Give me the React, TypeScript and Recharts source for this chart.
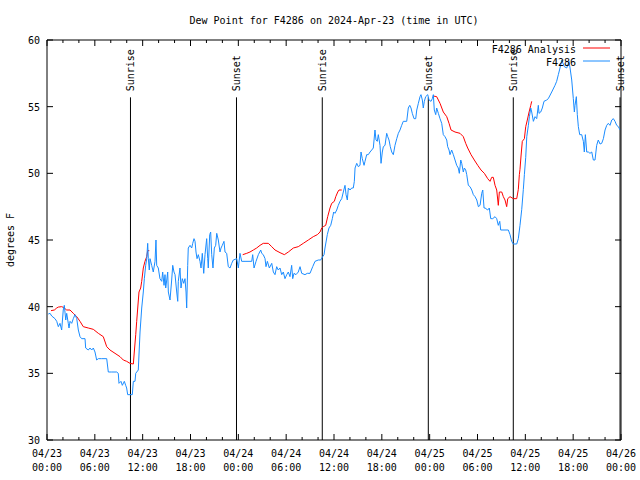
import { LineChart, Line, XAxis, YAxis, ReferenceLine } from "recharts";

// observed dew point (F4286), hours since 04/23 00:00 UTC
const obsHours = [
  0.16, 0.38, 0.59, 1.0, 1.22, 1.42, 1.63, 1.84, 2.04, 2.17, 2.35, 2.47, 2.67, 2.76, 2.89, 3.1, 3.3, 3.51, 3.73, 3.93,
  4.14, 4.35, 4.77, 4.85, 5.18, 5.39, 5.61, 5.81, 6.02, 6.23, 6.44, 6.86, 7.49, 7.69, 8.12, 8.74, 8.94, 9.03, 9.28, 9.45,
  9.7, 9.87, 9.99, 10.12, 10.41, 10.7, 10.83, 11.04, 11.13, 11.45, 11.67, 11.88, 12.08, 12.21, 12.38, 12.51, 12.63, 12.71, 12.83, 12.92,
  13.13, 13.33, 13.55, 13.67, 13.76, 13.96, 14.17, 14.39, 14.51, 14.68, 14.8, 14.89, 15.02, 15.14, 15.22, 15.43, 15.64, 15.77, 15.93, 16.06,
  16.27, 16.4, 16.47, 16.68, 16.81, 16.97, 17.15, 17.31, 17.44, 17.52, 17.65, 17.72, 17.94, 18.15, 18.28, 18.44, 18.57, 18.69, 18.82, 18.98,
  19.19, 19.32, 19.48, 19.66, 19.82, 20.03, 20.16, 20.23, 20.41, 20.53, 20.66, 20.82, 20.99, 21.16, 21.29, 21.49, 21.7, 21.83, 21.99, 22.2,
  22.33, 22.54, 22.74, 22.96, 23.17, 23.37, 23.8, 24.0, 24.21, 24.42, 24.84, 25.68, 25.8, 25.97, 26.22, 26.51, 26.81, 26.93, 27.13, 27.35,
  27.47, 27.64, 27.89, 28.19, 28.39, 28.6, 28.81, 29.01, 29.23, 29.44, 29.64, 29.85, 30.07, 30.27, 30.48, 30.69, 30.82, 30.98, 31.23, 31.52,
  31.74, 31.95, 32.36, 32.65, 32.99, 33.33, 33.62, 34.03, 34.33, 34.58, 34.75, 34.87, 35.16, 35.37, 35.59, 35.79, 35.96, 36.12, 36.34, 36.54,
  36.75, 36.97, 37.17, 37.38, 37.51, 37.67, 37.8, 38.01, 38.22, 38.42, 38.55, 38.64, 38.85, 39.05, 39.26, 39.39, 39.55, 39.77, 39.89, 40.1,
  40.3, 40.52, 40.73, 40.93, 41.14, 41.27, 41.43, 41.56, 41.77, 41.9, 42.06, 42.19, 42.4, 42.61, 42.74, 42.9, 43.06, 43.24, 43.44, 43.65,
  43.87, 44.07, 44.28, 44.49, 44.69, 45.12, 45.32, 45.5, 45.66, 45.82, 46.04, 46.25, 46.38, 46.58, 46.79, 46.91, 47.08, 47.2, 47.33, 47.5,
  47.76, 47.92, 48.17, 48.33, 48.46, 48.58, 48.76, 48.88, 49.09, 49.3, 49.51, 49.71, 49.92, 50.14, 50.26, 50.43, 50.55, 50.76, 50.97, 51.18,
  51.39, 51.59, 51.72, 51.9, 52.02, 52.22, 52.35, 52.52, 52.65, 52.85, 53.06, 53.28, 53.48, 53.69, 53.91, 54.11, 54.32, 54.53, 54.66, 54.82,
  54.95, 55.28, 55.48, 55.66, 55.91, 56.2, 56.41, 56.61, 56.79, 56.91, 57.87, 58.08, 58.29, 58.49, 58.92, 59.12, 59.33, 59.55, 59.75, 59.88,
  60.05, 60.18, 60.38, 60.51, 60.68, 60.8, 61.01, 61.22, 61.43, 61.63, 61.72, 61.93, 62.13, 62.34, 62.68, 62.88, 63.31, 63.72, 63.93, 64.14,
  64.35, 64.56, 64.89, 65.19, 65.48, 65.61, 65.82, 66.02, 66.15, 66.23, 66.4, 66.52, 66.65, 66.82, 67.07, 67.28, 67.4, 67.53, 67.7, 67.9,
  68.11, 68.33, 68.53, 68.74, 68.95, 69.15, 69.37, 69.58, 69.79, 70.0, 70.21, 70.41, 70.62, 70.84, 71.04, 71.25, 71.46, 71.67, 71.88,
];
const obsValues = [
  39.45, 39.5, 39.3, 39.1, 38.9, 38.5, 38.75, 38.25, 39.75, 40.1, 39.0, 39.5, 38.75, 38.4, 38.9, 38.75, 39.1, 39.4, 39.1, 38.25,
  37.75, 37.6, 37.6, 36.9, 36.75, 36.9, 36.75, 36.9, 36.6, 36.0, 36.1, 36.1, 36.1, 35.1, 35.1, 35.1, 35.0, 34.25, 34.4, 34.1,
  34.4, 34.1, 33.9, 33.4, 33.4, 33.4, 34.4, 34.4, 35.0, 35.25, 38.1, 39.9, 41.1, 42.1, 43.1, 43.6, 44.75, 43.6, 42.75, 43.6,
  43.1, 42.6, 43.4, 45.0, 43.1, 42.9, 42.1, 41.9, 42.6, 41.6, 42.4, 41.4, 42.0, 42.6, 41.1, 40.5, 42.0, 43.1, 42.6, 42.4,
  41.1, 40.4, 41.9, 42.9, 41.4, 42.1, 41.75, 42.1, 41.1, 39.9, 43.1, 44.4, 44.6, 44.4, 44.75, 45.1, 44.9, 44.1, 43.6, 43.9,
  43.4, 42.9, 44.0, 42.5, 43.9, 45.1, 43.6, 42.9, 45.4, 45.6, 43.9, 42.9, 44.4, 44.6, 45.5, 45.0, 44.1, 44.4, 44.6, 44.9,
  44.1, 44.0, 43.0, 42.9, 43.25, 43.5, 43.6, 42.9, 44.0, 43.4, 43.4, 43.4, 43.9, 42.9, 43.4, 43.9, 44.25, 44.0, 43.9, 43.6,
  43.0, 43.4, 42.9, 43.25, 42.6, 42.4, 43.0, 42.75, 42.9, 42.4, 42.6, 42.1, 42.4, 42.6, 42.25, 43.1, 42.1, 42.5, 42.4, 42.6,
  43.0, 42.5, 42.4, 42.5, 42.5, 43.0, 43.4, 43.5, 43.5, 43.75, 43.9, 44.4, 45.4, 45.9, 46.1, 46.6, 47.1, 47.0, 47.25, 47.6,
  47.9, 48.1, 48.6, 49.1, 48.4, 48.0, 48.9, 48.75, 48.9, 48.9, 49.4, 50.4, 50.75, 50.5, 50.6, 51.6, 51.1, 50.6, 50.9, 51.4,
  51.4, 51.6, 51.75, 51.9, 53.25, 52.5, 52.4, 52.9, 52.1, 50.75, 51.6, 52.0, 52.1, 53.0, 52.75, 52.5, 52.0, 51.6, 51.4, 52.1,
  52.6, 53.0, 53.25, 53.6, 53.9, 53.9, 54.9, 55.1, 54.9, 54.5, 54.1, 54.1, 54.75, 55.25, 55.75, 55.9, 55.5, 54.9, 55.4, 55.75,
  55.9, 55.5, 55.4, 55.6, 55.9, 54.75, 54.4, 54.9, 54.5, 54.1, 53.75, 52.9, 52.75, 52.5, 52.0, 51.75, 51.4, 51.75, 51.4, 51.0,
  50.6, 50.4, 50.0, 51.0, 50.75, 50.1, 50.4, 50.25, 49.9, 49.1, 49.0, 48.75, 48.4, 48.25, 48.0, 47.5, 47.6, 48.5, 48.75, 47.4,
  47.4, 47.25, 47.4, 46.6, 46.6, 46.75, 46.6, 46.1, 46.4, 45.75, 45.75, 45.4, 44.9, 44.7, 44.7, 45.1, 46.1, 47.3, 48.8, 49.9,
  51.2, 52.75, 53.6, 54.25, 54.9, 54.6, 53.9, 54.25, 54.1, 55.1, 54.5, 54.6, 54.9, 55.4, 55.5, 55.6, 56.1, 56.6, 56.9, 57.4,
  57.9, 58.5, 58.0, 57.9, 58.4, 57.9, 57.0, 55.6, 54.6, 55.1, 55.75, 54.4, 53.5, 52.9, 52.9, 52.4, 51.6, 52.9, 51.6, 51.6,
  51.5, 51.6, 51.0, 51.0, 52.1, 52.5, 52.2, 52.25, 52.6, 53.25, 53.6, 53.75, 53.6, 54.0, 54.1, 53.9, 53.6, 53.5, 53.25,
];

// analysis dew point; null marks a break in the line
const anaHours = [
  0.5, 0.92, 1.22, 1.42, 1.84, 2.04, 2.26, 2.47, 2.89, 3.3, 3.73, 4.14, 4.55, 5.18, 5.81, 6.44, 7.06, 7.49, 7.9, 8.53,
  9.16, 9.57, 9.99, 10.41, 10.83, 10.95, 11.13, 11.25, 11.38, 11.54, 11.75, 11.88, 12.08, 12.29, 12.51, 12.63, 12.83,
  18.0,
  24.55, 25.05, 25.46, 25.88, 26.3, 26.72, 27.13, 27.76, 28.19, 28.6, 29.23, 29.77, 30.27, 30.9, 31.52, 32.15, 32.78, 33.4,
  33.91, 34.25, 34.46, 34.66, 34.96, 35.21, 35.5, 35.71, 36.04, 36.22, 36.47, 36.63, 36.97,
  42.0,
  48.46, 48.88, 49.3, 49.71, 50.14, 50.43, 50.68, 51.18, 51.81, 52.22, 52.52, 52.77, 53.19, 53.6, 54.03, 54.44, 54.86, 55.28,
  55.57, 55.78, 55.98, 56.2, 56.41, 56.61, 56.74, 57.04, 57.24, 57.45, 57.66, 57.79, 58.08, 58.49, 58.92, 59.12, 59.25, 59.33,
  59.46, 59.62, 59.88, 60.05, 60.25, 60.47, 60.68, 60.8,
];
const anaValues = [
  39.7, 39.75, 39.9, 39.97, 40.0, 39.95, 39.85, 39.75, 39.75, 39.5, 39.25, 38.9, 38.5, 38.4, 38.3, 38.0, 37.75, 37.0, 36.75, 36.5,
  36.25, 36.0, 35.9, 35.75, 35.7, 36.6, 37.9, 38.9, 39.9, 41.1, 41.4, 41.9, 42.9, 43.4, 43.75, 44.2, 44.2,
  null,
  43.9, 44.0, 44.1, 44.25, 44.4, 44.6, 44.75, 44.75, 44.5, 44.25, 44.05, 43.9, 44.1, 44.4, 44.5, 44.75, 45.0, 45.25,
  45.4, 45.6, 45.9, 46.0, 46.1, 46.75, 47.4, 47.75, 47.9, 48.25, 48.6, 48.75, 48.75,
  null,
  55.8, 55.75, 55.25, 54.6, 54.25, 53.75, 53.25, 53.1, 53.0, 52.75, 52.25, 51.9, 51.4, 51.0, 50.6, 50.25, 50.0, 49.6,
  49.4, 49.7, 49.7, 49.1, 48.75, 47.6, 48.6, 48.6, 48.25, 48.0, 47.5, 48.1, 48.25, 48.1, 48.1, 48.8, 49.9, 50.3,
  51.3, 52.4, 52.6, 53.5, 54.0, 54.6, 55.1, 55.4,
];

const sunHours = [10.47, 23.77, 34.53, 47.83, 58.49, 71.88];
const sunNames = ["Sunrise", "Sunset", "Sunrise", "Sunset", "Sunrise", "Sunset"];
const sunLineTop = 55.7;

const xMajorHours = [0, 6, 12, 18, 24, 30, 36, 42, 48, 54, 60, 66, 72];
const xMinorHours = [
  0, 2, 4, 6, 8, 10, 12, 14, 16, 18, 20, 22, 24, 26, 28, 30, 32, 34, 36,
  38, 40, 42, 44, 46, 48, 50, 52, 54, 56, 58, 60, 62, 64, 66, 68, 70, 72,
];
const xDates = ["04/23", "04/23", "04/23", "04/23", "04/24", "04/24", "04/24", "04/24", "04/25", "04/25", "04/25", "04/25", "04/26"];
const xTimes = ["00:00", "06:00", "12:00", "18:00", "00:00", "06:00", "12:00", "18:00", "00:00", "06:00", "12:00", "18:00", "00:00"];
const yTicks = [30, 35, 40, 45, 50, 55, 60];

const obsData = obsHours.map((h, i) => ({ h, v: obsValues[i] }));
const anaData = anaHours.map((h, i) => ({ h, v: anaValues[i] }));

const FONT = "'DejaVu Sans Mono', monospace";
const RED = "#ff0000";
const BLUE = "#1a8cff";

const BottomTick = ({ x, y, payload }: any) => {
  const i = xMajorHours.indexOf(payload.value);
  return (
    <g>
      <line x1={x} x2={x} y1={y} y2={y - (i >= 0 ? 6 : 3)} stroke="#000" />
      {i >= 0 && (
        <text textAnchor="middle" fontFamily={FONT} fontSize={10} fill="#000">
          <tspan x={x} y={y + 17}>{xDates[i]}</tspan>
          <tspan x={x} y={y + 31}>{xTimes[i]}</tspan>
        </text>
      )}
    </g>
  );
};

const TopTick = ({ x, y, payload }: any) => {
  const major = xMajorHours.includes(payload.value);
  return <line x1={x} x2={x} y1={y} y2={y + (major ? 6 : 3)} stroke="#000" />;
};

const LeftTick = ({ x, y, payload }: any) => (
  <g>
    <line x1={x} x2={x + 6} y1={y} y2={y} stroke="#000" />
    <text x={x - 7} y={y + 4} textAnchor="end" fontFamily={FONT} fontSize={10} fill="#000">
      {payload.value}
    </text>
  </g>
);

const RightTick = ({ x, y }: any) => <line x1={x} x2={x - 6} y1={y} y2={y} stroke="#000" />;

const SunLabel = ({ viewBox, name }: any) => {
  const tx = viewBox.x + 3.5;
  const ty = viewBox.y - 6;
  return (
    <text x={tx} y={ty} transform={`rotate(-90 ${tx} ${ty})`} fontFamily={FONT} fontSize={10} fill="#000">
      {name}
    </text>
  );
};

export default function App() {
  return (
    <div style={{ position: "absolute", left: 0, top: 0, width: 640, height: 480, background: "#fff" }}>
      <LineChart width={640} height={480} margin={{ top: 39, right: 18, bottom: 0, left: 7 }}>
        <XAxis
          dataKey="h"
          type="number"
          domain={[0, 72]}
          ticks={xMinorHours}
          interval={0}
          height={40}
          tickSize={0}
          tickMargin={0}
          tickLine={false}
          axisLine={{ stroke: "#000" }}
          tick={<BottomTick />}
          allowDataOverflow
        />
        <XAxis
          xAxisId="top"
          orientation="top"
          dataKey="h"
          type="number"
          domain={[0, 72]}
          ticks={xMinorHours}
          interval={0}
          height={1}
          tickSize={0}
          tickMargin={0}
          tickLine={false}
          axisLine={{ stroke: "#000" }}
          tick={<TopTick />}
          allowDataOverflow
        />
        <YAxis
          type="number"
          domain={[30, 60]}
          ticks={yTicks}
          interval={0}
          width={40}
          tickSize={0}
          tickMargin={0}
          tickLine={false}
          axisLine={{ stroke: "#000" }}
          tick={<LeftTick />}
          allowDataOverflow
        />
        <YAxis
          yAxisId="right"
          orientation="right"
          type="number"
          domain={[30, 60]}
          ticks={yTicks}
          interval={0}
          width={1}
          tickSize={0}
          tickMargin={0}
          tickLine={false}
          axisLine={{ stroke: "#000" }}
          tick={<RightTick />}
          allowDataOverflow
        />
        {sunHours.map((h, i) => (
          <ReferenceLine
            key={`sun-${i}`}
            segment={[{ x: h, y: 30 }, { x: h, y: sunLineTop }]}
            stroke="#000"
            strokeWidth={1}
            label={<SunLabel name={sunNames[i]} />}
          />
        ))}
        <Line
          data={anaData}
          dataKey="v"
          type="linear"
          stroke={RED}
          strokeWidth={1}
          dot={false}
          activeDot={false}
          isAnimationActive={false}
        />
        <Line
          data={obsData}
          dataKey="v"
          type="linear"
          stroke={BLUE}
          strokeWidth={1}
          dot={false}
          activeDot={false}
          isAnimationActive={false}
        />
      </LineChart>
      <svg width={640} height={480} style={{ position: "absolute", left: 0, top: 0, pointerEvents: "none" }}>
        <text x={334} y={24} textAnchor="middle" fontFamily={FONT} fontSize={10} fill="#000">
          Dew Point for F4286 on 2024-Apr-23 (time in UTC)
        </text>
        <text x={14} y={240} transform="rotate(-90 14 240)" textAnchor="middle" fontFamily={FONT} fontSize={10} fill="#000">
          degrees F
        </text>
        <text x={576} y={53} textAnchor="end" fontFamily={FONT} fontSize={10} fill="#000">
          F4286 Analysis
        </text>
        <line x1={583} x2={610} y1={48} y2={48} stroke={RED} />
        <text x={576} y={66} textAnchor="end" fontFamily={FONT} fontSize={10} fill="#000">
          F4286
        </text>
        <line x1={583} x2={610} y1={61} y2={61} stroke={BLUE} />
      </svg>
    </div>
  );
}
